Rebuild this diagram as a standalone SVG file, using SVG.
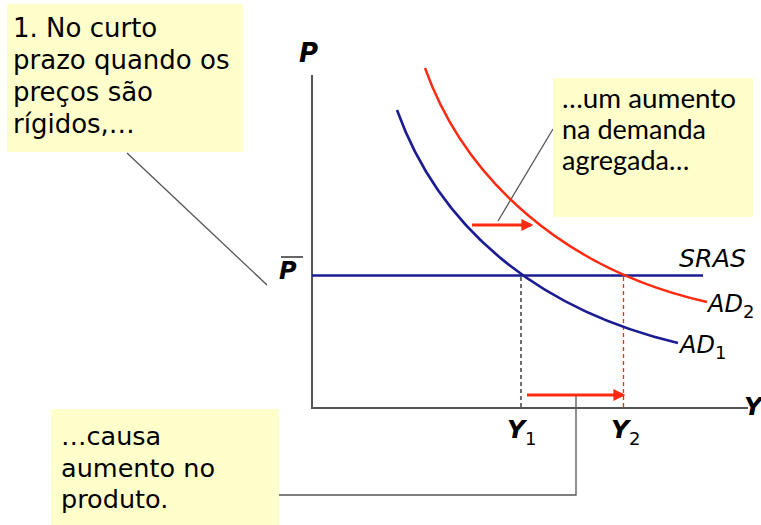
<svg xmlns="http://www.w3.org/2000/svg" width="761" height="525" viewBox="0 0 761 525">
<style>
.box{fill:#FFFFCC;stroke:none}
.t{font-family:"DejaVu Sans",Verdana,sans-serif;font-size:26px;fill:#000}
.t3{font-family:"DejaVu Sans",Verdana,sans-serif;font-size:25.5px;fill:#000}
.c{font-family:Lato,"Open Sans",sans-serif;font-size:27px;fill:#000}
.ax{stroke:#555;stroke-width:2;fill:none}
.lead{stroke:#555;stroke-width:1.3;fill:none}
.lbl{font-family:"DejaVu Sans",Verdana,sans-serif;font-weight:bold;font-style:italic;fill:#000}
.it{font-family:"DejaVu Sans",Verdana,sans-serif;font-style:italic;font-size:24px;fill:#000}
.sub{font-family:"DejaVu Sans",Verdana,sans-serif;font-size:18px;font-style:normal;font-weight:normal}
.blue{stroke:#1C1C92;stroke-width:2.6;fill:none}
.red{stroke:#FF2A10;stroke-width:2.4;fill:none}
.arr{stroke:#FF2A10;stroke-width:3;fill:none}
</style>
<defs>
<marker id="ah" markerWidth="4" markerHeight="4" refX="3.2" refY="2" orient="auto" markerUnits="strokeWidth">
<path d="M0,0 L4,2 L0,4 Z" fill="#FF2A10"/>
</marker>
</defs>
<g id="axes">
<line class="ax" x1="312" y1="75" x2="312" y2="408"/>
<line class="ax" x1="311" y1="408" x2="748" y2="408"/>
<text class="lbl" x="299" y="62" font-size="26">P</text>
<text class="lbl" x="744" y="415" font-size="25">Y</text>
<g id="pbar">
<line x1="281" y1="257" x2="303" y2="257" stroke="#333" stroke-width="1.5"/>
<text class="lbl" x="279" y="279" font-size="24">P</text>
</g>
<text class="lbl" x="507" y="438" font-size="25">Y<tspan class="sub" dx="0" dy="7">1</tspan></text>
<text class="lbl" x="611" y="438" font-size="25">Y<tspan class="sub" dx="0" dy="7">2</tspan></text>
</g>
<g id="connectors">
<line x1="521" y1="277" x2="521" y2="408" stroke="#222" stroke-width="1.3" stroke-dasharray="4,3"/>
<line x1="623.5" y1="277" x2="623.5" y2="408" stroke="#FF2A10" stroke-width="1.3" stroke-dasharray="4,3"/>
<line class="lead" x1="127" y1="153" x2="267" y2="285"/>
<line class="lead" x1="553" y1="129" x2="498" y2="221"/>
<polyline class="lead" points="279,495 576,495 576,395"/>
<line class="arr" x1="472" y1="225" x2="531" y2="225" marker-end="url(#ah)"/>
<line class="arr" x1="527" y1="395" x2="623" y2="395" marker-end="url(#ah)"/>
</g>
<g id="SRAS">
<line class="blue" x1="312" y1="275.5" x2="703" y2="275.5"/>
<text class="it" x="679" y="267" textLength="67" lengthAdjust="spacingAndGlyphs">SRAS</text>
</g>
<g id="AD1">
<path class="blue" d="M397,110 C440,230 540,310 678,343"/>
<text class="it" x="680" y="353">AD<tspan class="sub" dy="6">1</tspan></text>
</g>
<g id="AD2">
<path class="red" d="M425,68 C465,180 565,270 707,302"/>
<text class="it" x="708" y="312">AD<tspan class="sub" dy="6">2</tspan></text>
</g>
<g id="note1">
<rect class="box" x="7" y="4" width="236" height="148"/>
<text class="t" x="13" y="37">1. No curto</text>
<text class="t" x="13" y="69">prazo quando os</text>
<text class="t" x="13" y="101">preços são</text>
<text class="t" x="13" y="133">rígidos,…</text>
</g>
<g id="note2">
<rect class="box" x="553" y="78" width="200" height="139"/>
<text class="c" x="562" y="108" textLength="174" lengthAdjust="spacingAndGlyphs">…um aumento</text>
<text class="c" x="562" y="139">na demanda</text>
<text class="c" x="562" y="170">agregada…</text>
</g>
<g id="note3">
<rect class="box" x="51" y="409" width="228" height="116"/>
<text class="t3" x="61" y="445">…causa</text>
<text class="t3" x="61" y="477" textLength="154" lengthAdjust="spacingAndGlyphs">aumento no</text>
<text class="t3" x="61" y="508">produto.</text>
</g>
</svg>
